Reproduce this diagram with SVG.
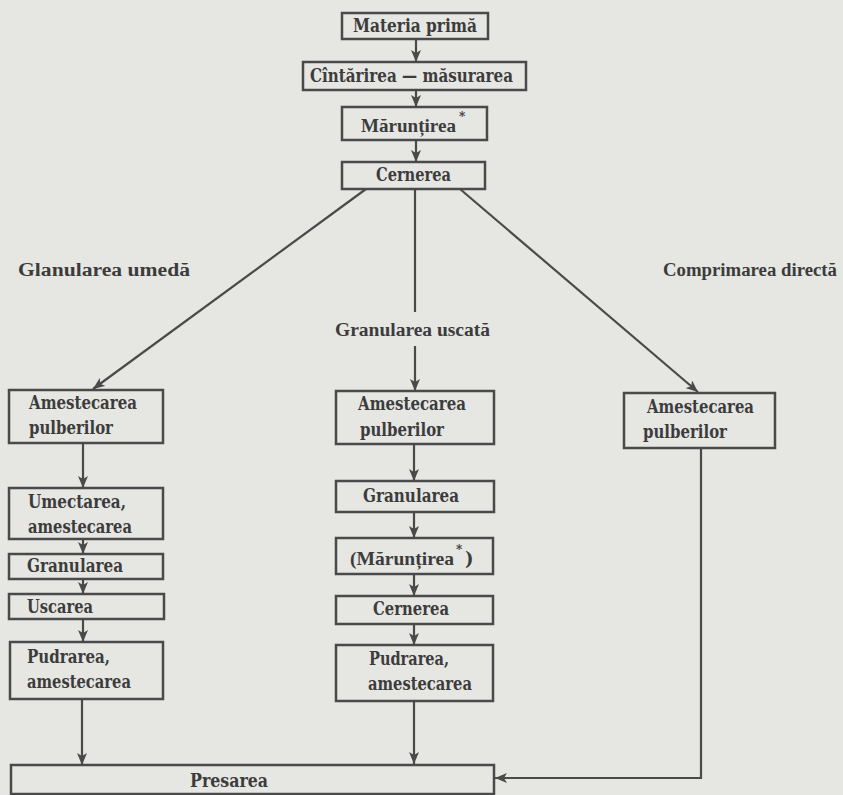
<svg xmlns="http://www.w3.org/2000/svg" width="843" height="795" viewBox="0 0 843 795">
<style>
.bg{fill:#e6e6e3}
.box{fill:none;stroke:#4a4a4a;stroke-width:2.5}
.ln{fill:none;stroke:#4a4a4a;stroke-width:2.2}
.t{font-family:"DejaVu Serif","Liberation Serif",serif;font-weight:bold;font-size:18px;fill:#3c3c3c}
.n{font-family:"Liberation Serif","DejaVu Serif",serif;font-weight:bold;font-size:19px;fill:#3c3c3c}
.lab{font-family:"Liberation Serif","DejaVu Serif",serif;font-weight:bold;font-size:18px;fill:#3c3c3c}
.sup{font-family:"DejaVu Serif","Liberation Serif",serif;font-weight:bold;font-size:12px;fill:#3c3c3c}
</style>
<defs>
<marker id="ah" markerUnits="userSpaceOnUse" markerWidth="12" markerHeight="10" refX="12" refY="5" orient="auto">
<path d="M0,0 L12,5 L0,10 L3,5 Z" fill="#4a4a4a"/>
</marker>
</defs>
<rect class="bg" x="0" y="0" width="843" height="795"/>

<g id="connectors">
<line class="ln" x1="416" y1="39" x2="416" y2="62" marker-end="url(#ah)"/>
<line class="ln" x1="416" y1="90" x2="416" y2="107" marker-end="url(#ah)"/>
<line class="ln" x1="416" y1="140" x2="416" y2="162" marker-end="url(#ah)"/>
<line class="ln" x1="366" y1="189" x2="93" y2="389" marker-end="url(#ah)"/>
<line class="ln" x1="415" y1="189" x2="415" y2="312"/>
<line class="ln" x1="415" y1="346" x2="415" y2="391" marker-end="url(#ah)"/>
<line class="ln" x1="460" y1="189" x2="698" y2="392" marker-end="url(#ah)"/>
<line class="ln" x1="83" y1="443" x2="83" y2="488" marker-end="url(#ah)"/>
<line class="ln" x1="83" y1="539" x2="83" y2="554" marker-end="url(#ah)"/>
<line class="ln" x1="83" y1="579" x2="83" y2="594" marker-end="url(#ah)"/>
<line class="ln" x1="83" y1="619" x2="83" y2="642" marker-end="url(#ah)"/>
<line class="ln" x1="82" y1="699" x2="82" y2="765" marker-end="url(#ah)"/>
<line class="ln" x1="414" y1="444" x2="414" y2="481" marker-end="url(#ah)"/>
<line class="ln" x1="414" y1="512" x2="414" y2="538" marker-end="url(#ah)"/>
<line class="ln" x1="414" y1="574" x2="414" y2="596" marker-end="url(#ah)"/>
<line class="ln" x1="414" y1="624" x2="414" y2="645" marker-end="url(#ah)"/>
<line class="ln" x1="414" y1="701" x2="414" y2="764" marker-end="url(#ah)"/>
<polyline class="ln" points="701,448 701,778 495,778" marker-end="url(#ah)"/>
</g>

<g id="labels">
<text class="lab" x="18" y="276" textLength="172" lengthAdjust="spacingAndGlyphs">Glanularea umedă</text>
<text class="lab" x="335" y="336" textLength="155" lengthAdjust="spacingAndGlyphs">Granularea uscată</text>
<text class="lab" x="663" y="276" textLength="174" lengthAdjust="spacingAndGlyphs">Comprimarea directă</text>
</g>

<g id="n-materia"><rect class="box" x="342" y="13" width="146" height="26"/><text class="t" x="353" y="32" textLength="124" lengthAdjust="spacingAndGlyphs">Materia primă</text></g>
<g id="n-cantarirea"><rect class="box" x="303" y="62" width="223" height="28"/><text class="t" x="310" y="82" textLength="203" lengthAdjust="spacingAndGlyphs">Cîntărirea — măsurarea</text></g>
<g id="n-maruntirea"><rect class="box" x="342" y="107" width="145" height="33"/><text class="n" x="361" y="132" textLength="95" lengthAdjust="spacingAndGlyphs">Mărunțirea</text><text class="sup" x="459" y="121">*</text></g>
<g id="n-cernerea"><rect class="box" x="342" y="162" width="143" height="27"/><text class="t" x="376" y="181" textLength="75" lengthAdjust="spacingAndGlyphs">Cernerea</text></g>

<g id="n-l-amestecarea"><rect class="box" x="9" y="390" width="154" height="53"/><text class="t" x="29" y="409" textLength="108" lengthAdjust="spacingAndGlyphs">Amestecarea</text><text class="t" x="29" y="434" textLength="84" lengthAdjust="spacingAndGlyphs">pulberilor</text></g>
<g id="n-l-umectarea"><rect class="box" x="9" y="488" width="154" height="51"/><text class="t" x="28" y="508" textLength="98" lengthAdjust="spacingAndGlyphs">Umectarea,</text><text class="t" x="28" y="533" textLength="104" lengthAdjust="spacingAndGlyphs">amestecarea</text></g>
<g id="n-l-granularea"><rect class="box" x="9" y="554" width="154" height="25"/><text class="t" x="27" y="572" textLength="96" lengthAdjust="spacingAndGlyphs">Granularea</text></g>
<g id="n-l-uscarea"><rect class="box" x="9" y="594" width="155" height="25"/><text class="t" x="27" y="613" textLength="66" lengthAdjust="spacingAndGlyphs">Uscarea</text></g>
<g id="n-l-pudrarea"><rect class="box" x="10" y="642" width="153" height="57"/><text class="t" x="27" y="663" textLength="83" lengthAdjust="spacingAndGlyphs">Pudrarea,</text><text class="t" x="27" y="688" textLength="104" lengthAdjust="spacingAndGlyphs">amestecarea</text></g>

<g id="n-m-amestecarea"><rect class="box" x="336" y="391" width="158" height="53"/><text class="t" x="358" y="410" textLength="108" lengthAdjust="spacingAndGlyphs">Amestecarea</text><text class="t" x="360" y="436" textLength="84" lengthAdjust="spacingAndGlyphs">pulberilor</text></g>
<g id="n-m-granularea"><rect class="box" x="336" y="481" width="158" height="31"/><text class="t" x="363" y="502" textLength="96" lengthAdjust="spacingAndGlyphs">Granularea</text></g>
<g id="n-m-maruntirea"><rect class="box" x="336" y="538" width="157" height="36"/><text class="n" x="350" y="565" textLength="104" lengthAdjust="spacingAndGlyphs">(Mărunțirea</text><text class="sup" x="456" y="554">*</text><text class="t" x="465" y="565">)</text></g>
<g id="n-m-cernerea"><rect class="box" x="336" y="596" width="157" height="28"/><text class="t" x="373" y="615" textLength="76" lengthAdjust="spacingAndGlyphs">Cernerea</text></g>
<g id="n-m-pudrarea"><rect class="box" x="336" y="645" width="157" height="56"/><text class="t" x="369" y="665" textLength="80" lengthAdjust="spacingAndGlyphs">Pudrarea,</text><text class="t" x="368" y="690" textLength="104" lengthAdjust="spacingAndGlyphs">amestecarea</text></g>

<g id="n-r-amestecarea"><rect class="box" x="624" y="393" width="151" height="55"/><text class="t" x="647" y="413" textLength="107" lengthAdjust="spacingAndGlyphs">Amestecarea</text><text class="t" x="643" y="438" textLength="84" lengthAdjust="spacingAndGlyphs">pulberilor</text></g>

<g id="n-presarea"><rect class="box" x="11" y="765" width="483" height="29"/><text class="t" x="190" y="787" textLength="78" lengthAdjust="spacingAndGlyphs">Presarea</text></g>
</svg>
